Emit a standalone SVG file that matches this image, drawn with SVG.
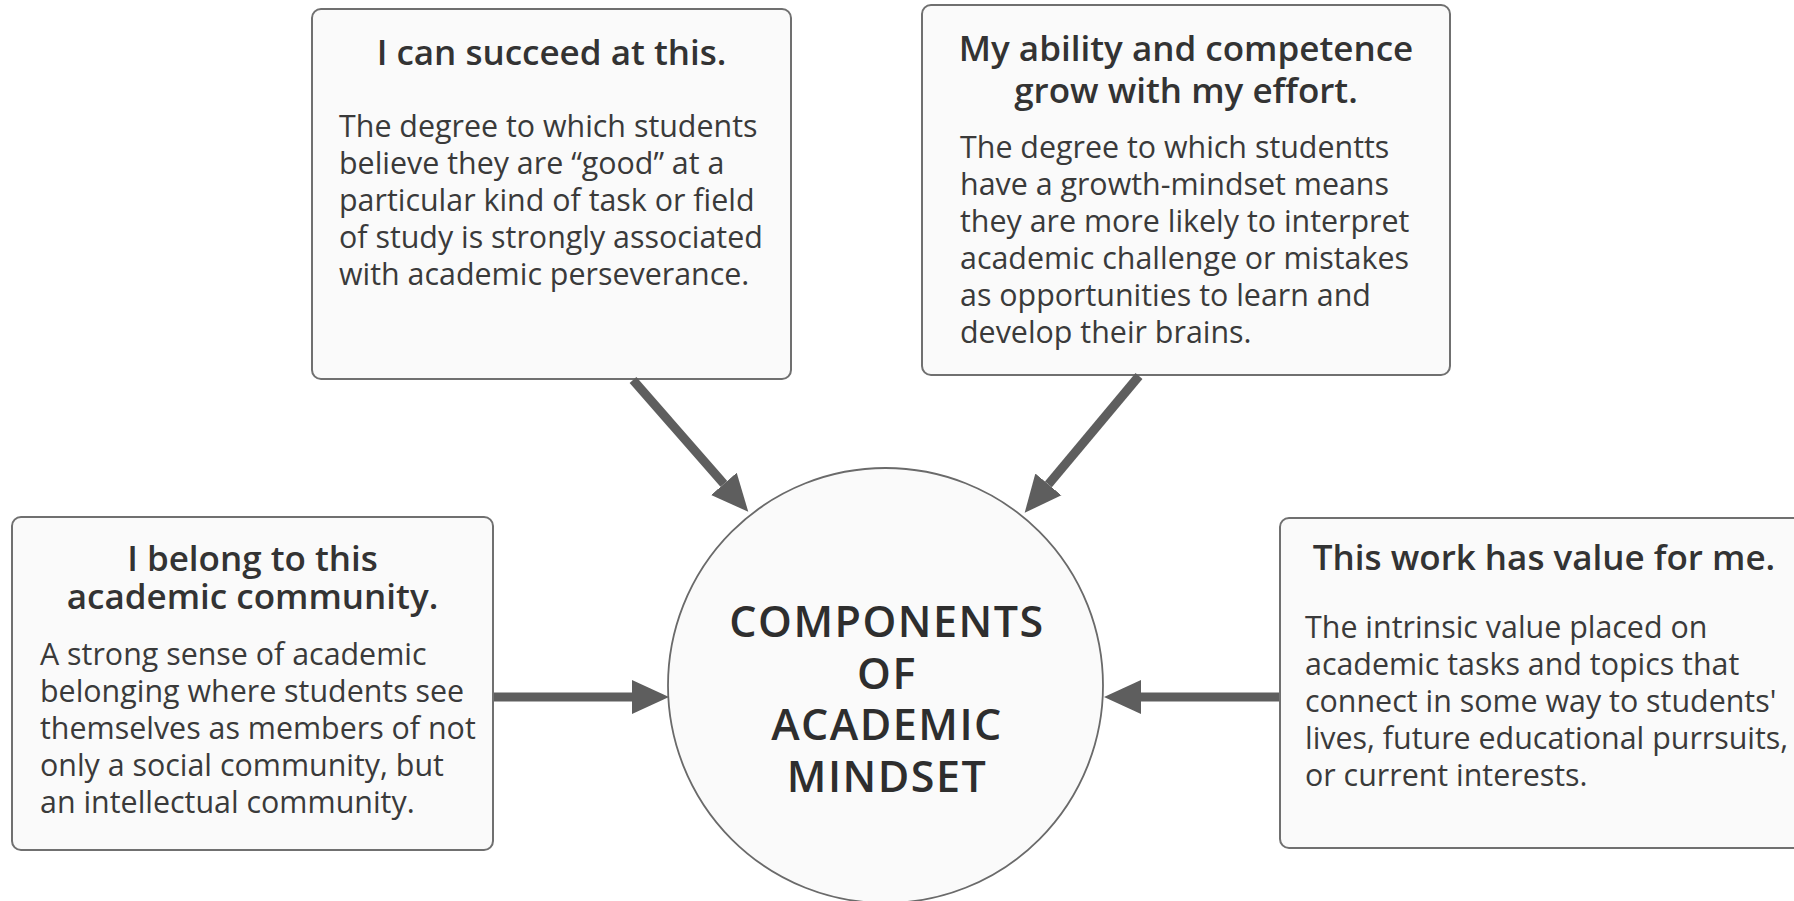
<svg xmlns="http://www.w3.org/2000/svg" width="1794" height="901" viewBox="0 0 1794 901">
  <style>
    .box { fill: #fafafa; stroke: #707070; stroke-width: 2; }
    .hub { fill: #fafafa; stroke: #6a6a6a; stroke-width: 1.8; }
    .title { font-family: "Open Sans", "Noto Sans", "Liberation Sans", sans-serif; font-weight: 600; font-size: 35px; fill: #333333; text-anchor: middle; }
    .body { font-family: "Open Sans", "Noto Sans", "Liberation Sans", sans-serif; font-weight: 400; font-size: 30.4px; fill: #3a3a3a; }
    .hubtext { font-family: "Open Sans", "Noto Sans", "Liberation Sans", sans-serif; font-weight: 600; font-size: 43px; letter-spacing: 1.5px; fill: #2e2e2e; text-anchor: middle; }
    .conn { stroke: #5e5e5e; stroke-width: 9; fill: none; marker-end: url(#head); }
  </style>
  <defs>
    <marker id="head" markerUnits="userSpaceOnUse" markerWidth="38" markerHeight="36" viewBox="0 0 38 36" refX="0" refY="18" orient="auto">
      <path d="M0,1 L37,18 L0,35 Z" fill="#5e5e5e"/>
    </marker>
  </defs>

  <rect width="1794" height="901" fill="#ffffff"/>

  <g id="node-succeed">
    <rect class="box" x="312" y="9" width="479" height="370" rx="9"/>
    <text class="title" x="551.5" y="65">I can succeed at this.</text>
    <text class="body" x="339" y="137">The degree to which students</text>
    <text class="body" x="339" y="174">believe they are “good” at a</text>
    <text class="body" x="339" y="211">particular kind of task or field</text>
    <text class="body" x="339" y="248">of study is strongly associated</text>
    <text class="body" x="339" y="285">with academic perseverance.</text>
  </g>

  <g id="node-growth">
    <rect class="box" x="922" y="5" width="528" height="370" rx="9"/>
    <text class="title" x="1186" y="61">My ability and competence<tspan x="1186" dy="41.5">grow with my effort.</tspan></text>
    <text class="body" x="960" y="158">The degree to which studentts</text>
    <text class="body" x="960" y="195">have a growth-mindset means</text>
    <text class="body" x="960" y="232">they are more likely to interpret</text>
    <text class="body" x="960" y="269">academic challenge or mistakes</text>
    <text class="body" x="960" y="306">as opportunities to learn and</text>
    <text class="body" x="960" y="343">develop their brains.</text>
  </g>

  <g id="node-belong">
    <rect class="box" x="12" y="517" width="481" height="333" rx="9"/>
    <text class="title" x="252.5" y="570.5">I belong to this<tspan x="252.5" dy="38.5">academic community.</tspan></text>
    <text class="body" x="40" y="665">A strong sense of academic</text>
    <text class="body" x="40" y="702">belonging where students see</text>
    <text class="body" x="40" y="739">themselves as members of not</text>
    <text class="body" x="40" y="776">only a social community, but</text>
    <text class="body" x="40" y="813">an intellectual community.</text>
  </g>

  <g id="node-value">
    <rect class="box" x="1280" y="518" width="528" height="330" rx="9"/>
    <text class="title" x="1544" y="570">This work has value for me.</text>
    <text class="body" x="1305" y="638">The intrinsic value placed on</text>
    <text class="body" x="1305" y="675">academic tasks and topics that</text>
    <text class="body" x="1305" y="712">connect in some way to students'</text>
    <text class="body" x="1305" y="749">lives, future educational purrsuits,</text>
    <text class="body" x="1305" y="786">or current interests.</text>
  </g>

  <g id="node-mindset">
    <circle class="hub" cx="885.5" cy="685.5" r="217.5"/>
    <text class="hubtext" x="887" y="637">COMPONENTS<tspan x="887" dy="52">OF</tspan><tspan x="887" dy="51">ACADEMIC</tspan><tspan x="887" dy="52">MINDSET</tspan></text>
  </g>

  <g id="connectors">
    <line class="conn" x1="633" y1="380" x2="723.9" y2="483.9"/>
    <line class="conn" x1="1139" y1="376" x2="1048.4" y2="484.4"/>
    <line class="conn" x1="494" y1="697" x2="632" y2="697"/>
    <line class="conn" x1="1279" y1="697" x2="1141" y2="697"/>
  </g>
</svg>
